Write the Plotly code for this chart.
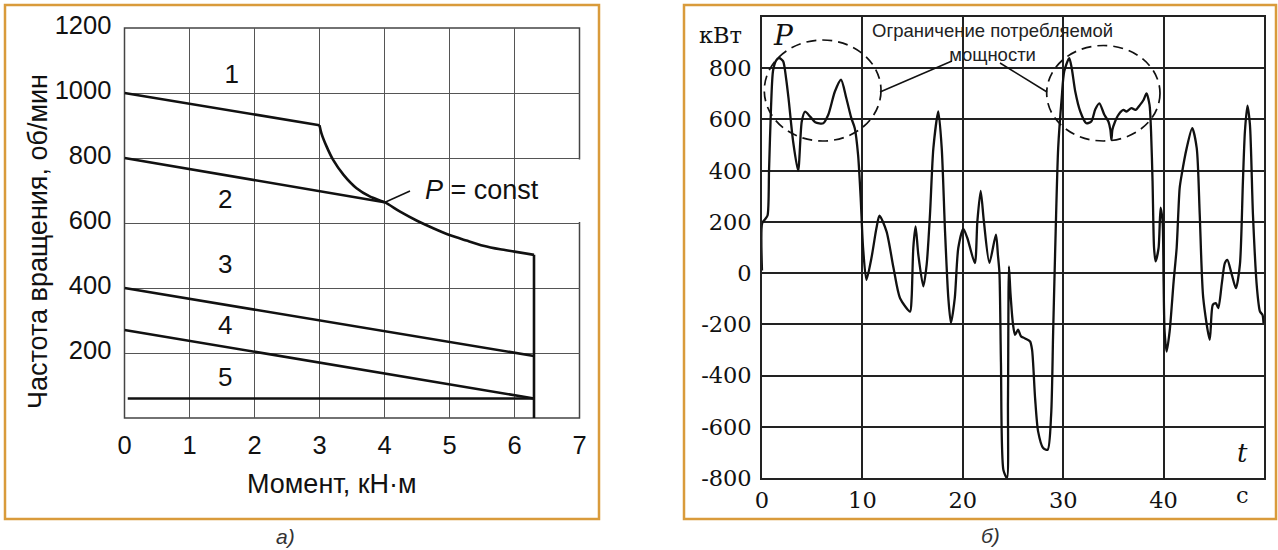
import plotly.graph_objects as go

W, H = 1278, 550

# ---------------- data: panel a) ----------------
line1_m = [0, 3.0]
line1_n = [1000, 901]
line2_m = [0, 4.0]
line2_n = [800, 664]
pconst_m = [3.0, 3.03, 3.11, 3.21, 3.37, 3.57, 3.78, 4.0, 4.24, 4.5, 4.75, 5.0, 5.26, 5.52, 5.78, 6.0, 6.3]
pconst_n = [901, 876, 835, 794, 748, 707, 681, 664, 635, 607, 584, 563, 546, 530, 519, 512, 502]
limit_m = [6.3, 6.3]
limit_n = [502, 0]
line3_m = [0, 6.3]
line3_n = [400, 191]
line4_m = [0, 6.3]
line4_n = [271, 60]
line5_m = [0.05, 6.3]
line5_n = [60, 60]
curve_labels = ["1", "2", "3", "4", "5"]
curve_label_m = [1.65, 1.55, 1.55, 1.55, 1.55]
curve_label_n = [1050, 665, 465, 277, 117]
a_xticks = [0, 1, 2, 3, 4, 5, 6, 7]
a_yticks = [200, 400, 600, 800, 1000, 1200]

# ---------------- data: panel б) ----------------
t_s = [0, 0.02, 0.3, 0.55, 0.7, 0.9, 1.1, 1.4, 1.7, 2.1, 2.4, 2.64, 3.1, 3.6, 3.96, 4.28, 4.8, 5.3,
       6.1, 6.6, 7.26, 7.87, 8.4, 8.9, 9.24, 9.57, 9.83, 10.07, 10.4, 10.9, 11.4, 11.7, 12.4, 13.1,
       13.75, 14.75, 14.9, 15.07, 15.3, 15.57, 16.07, 16.4, 16.73, 17.07, 17.56, 17.9, 18.23, 18.56,
       18.82, 19.2, 19.55, 20.05, 20.45, 21.2, 21.45, 21.78, 22.1, 22.65, 23.3, 23.5, 23.65, 23.8,
       24.05, 24.4, 24.5, 24.6, 24.75, 25.0, 25.2, 25.5, 25.8, 26.2, 26.7, 26.9, 27.2, 27.5, 28.0,
       28.45, 28.8, 29.0, 29.25, 29.5, 29.85, 30.1, 30.6, 30.85, 31.2, 31.7, 32.3, 32.8, 33.2, 33.6,
       34.1, 34.5, 34.7, 34.8, 34.9, 35.15, 35.5, 36.0, 36.3, 36.8, 37.2, 37.65, 38.0, 38.3, 38.6,
       38.75, 38.9, 39.05, 39.2, 39.5, 39.7, 39.9, 40.0, 40.1, 40.3, 40.6, 41.0, 41.3, 41.6, 41.8,
       42.3, 42.85, 43.3, 43.6, 43.95, 44.6, 44.9, 45.2, 45.45, 45.8, 46.1, 46.35, 46.8, 47.2, 47.6,
       47.9, 48.1, 48.35, 48.6, 48.9, 49.3, 49.6, 49.85, 49.95]
p_kw = [10, 195, 210, 225, 400, 650, 790, 830, 840, 828, 760, 683, 514, 400, 592, 630, 611, 589,
        585, 618, 709, 755, 683, 605, 566, 462, 293, 98, -26, 59, 176, 224, 163, 20,
        -98, -150, -98, 98, 182, 72, -52, 33, 228, 488, 631, 488, 163, -98,
        -195, -98, 98, 173, 137, 39, 202, 321, 202, 40, 150, 70, 0, -350,
        -770, -800, -500, 26, -80, -200, -241, -221, -247, -255, -267, -300, -488, -618, -683,
        -690, -553, -228, 163, 488, 683, 787, 839, 800, 709, 631, 585, 592, 640, 663,
        618, 592, 560, 520, 560, 590, 618, 637, 631, 644, 637, 657, 676, 702, 657,
        553, 358, 98, 46, 98, 256, 202, -32, -228, -306, -228, -32, 98, 332, 384,
        488, 566, 488, 228, -98, -260, -124, -117, -137, -40, 39, 52, -7, -59, 33,
        358, 553, 654, 579, 228, -59, -150, -163, -195]
b_xticks = [0, 10, 20, 30, 40]
b_yticks = [-800, -600, -400, -200, 0, 200, 400, 600, 800]
b_yticktext = ["-800", "-600", "-400", "-200", "0", "200", "400", "600", "800"]


def fx(p):
    return p / W


def fy(p):
    return 1 - p / H


fig = go.Figure()

BLK = "#111111"
sans = "Liberation Sans, Arial, sans-serif"
serif = "DejaVu Serif, serif"

for mm, nn in [(line1_m, line1_n), (line2_m, line2_n), (limit_m, limit_n),
               (line3_m, line3_n), (line4_m, line4_n), (line5_m, line5_n)]:
    fig.add_trace(go.Scatter(x=mm, y=nn, mode="lines", xaxis="x", yaxis="y",
                             line=dict(color=BLK, width=2.6), showlegend=False, hoverinfo="skip"))
fig.add_trace(go.Scatter(x=pconst_m, y=pconst_n, mode="lines", xaxis="x", yaxis="y",
                         line=dict(color=BLK, width=2.6, shape="spline", smoothing=0.8),
                         showlegend=False, hoverinfo="skip"))
fig.add_trace(go.Scatter(x=curve_label_m, y=curve_label_n, mode="text", text=curve_labels,
                         textfont=dict(family=sans, size=26, color=BLK),
                         xaxis="x", yaxis="y", showlegend=False, hoverinfo="skip", cliponaxis=False))

fig.add_trace(go.Scatter(x=t_s, y=p_kw, mode="lines", xaxis="x2", yaxis="y2",
                         line=dict(color=BLK, width=2.3, shape="spline", smoothing=0.7),
                         showlegend=False, hoverinfo="skip"))

fig.update_layout(
    width=W, height=H, autosize=False, showlegend=False,
    margin=dict(l=0, r=0, t=0, b=0, pad=0, autoexpand=False),
    paper_bgcolor="white", plot_bgcolor="white",
    xaxis=dict(domain=[fx(124.5), fx(579.5)], range=[0, 7], tickmode="array", tickvals=a_xticks,
               showgrid=True, gridcolor="#555555", gridwidth=1, zeroline=False, showline=False,
               ticks="outside", ticklen=0, ticklabelstandoff=4, automargin=False, anchor="y",
               tickfont=dict(family=sans, size=25.5, color=BLK), fixedrange=True),
    yaxis=dict(domain=[fy(418), fy(28)], range=[0, 1200], tickmode="array", tickvals=a_yticks,
               showgrid=True, gridcolor="#555555", gridwidth=1, zeroline=False, showline=False,
               ticks="outside", ticklen=0, ticklabelstandoff=7, ticklabelshift=-3,
               automargin=False, anchor="x",
               tickfont=dict(family=sans, size=25.5, color=BLK), fixedrange=True),
    xaxis2=dict(domain=[fx(762), fx(1264)], range=[0, 50], tickmode="array", tickvals=b_xticks,
                showgrid=True, gridcolor="#222222", gridwidth=1.5, zeroline=False,
                showline=True, mirror=True, linecolor="#222222", linewidth=1.6,
                ticks="outside", ticklen=0, ticklabelstandoff=1, anchor="y2", automargin=False,
                tickfont=dict(family=serif, size=22.5, color=BLK), fixedrange=True),
    yaxis2=dict(domain=[fy(478), fy(17)], range=[-800, 1000], tickmode="array", tickvals=b_yticks,
                ticktext=b_yticktext,
                showgrid=True, gridcolor="#222222", gridwidth=1.5, zeroline=False,
                showline=True, mirror=True, linecolor="#222222", linewidth=1.6,
                ticks="outside", ticklen=0, ticklabelstandoff=4, anchor="x2", automargin=False,
                tickfont=dict(family=serif, size=22.5, color=BLK), fixedrange=True),
)

ORANGE = "#D99B3B"
shapes = [
    dict(type="rect", xref="paper", yref="paper", x0=fx(5), x1=fx(599), y0=fy(519), y1=fy(5),
         line=dict(color=ORANGE, width=2.5), layer="below"),
    dict(type="rect", xref="paper", yref="paper", x0=fx(684), x1=fx(1276), y0=fy(519), y1=fy(5),
         line=dict(color=ORANGE, width=2.5), layer="below"),
    # frame of panel a)
    dict(type="rect", xref="paper", yref="paper", x0=fx(124.5), x1=fx(579.5), y0=fy(418), y1=fy(28),
         line=dict(color="#444444", width=1.5), layer="below"),
    # white box behind "P = const"
    dict(type="rect", xref="paper", yref="paper", x0=fx(387), x1=fx(586), y0=fy(222), y1=fy(159.5),
         line=dict(width=0), fillcolor="white", layer="between"),
    # white box behind note in panel б)
    dict(type="rect", xref="paper", yref="paper", x0=fx(866), x1=fx(1150), y0=fy(67.5), y1=fy(18),
         line=dict(width=0), fillcolor="white", layer="between"),
    # leader for P = const
    dict(type="line", xref="paper", yref="paper", x0=fx(384.5), y0=fy(202.5), x1=fx(410), y1=fy(191),
         line=dict(color=BLK, width=1.5), layer="above"),
    # dashed ellipses
    dict(type="circle", xref="paper", yref="paper", x0=fx(764.3), x1=fx(881), y0=fy(141), y1=fy(40),
         line=dict(color=BLK, width=1.7, dash="10px,6px"), layer="above"),
    dict(type="circle", xref="paper", yref="paper", x0=fx(1046.7), x1=fx(1160), y0=fy(141), y1=fy(45.5),
         line=dict(color=BLK, width=1.7, dash="10px,6px"), layer="above"),
    # leader lines
    dict(type="line", xref="paper", yref="paper", x0=fx(880), y0=fy(92), x1=fx(952), y1=fy(61),
         line=dict(color=BLK, width=1.5), layer="above"),
    dict(type="line", xref="paper", yref="paper", x0=fx(1000), y0=fy(63), x1=fx(1047), y1=fy(92),
         line=dict(color=BLK, width=1.5), layer="above"),
]
fig.update_layout(shapes=shapes)

ann = [
    dict(text="Частота вращения, об/мин", x=fx(38), y=fy(242), textangle=-90,
         font=dict(family=sans, size=27, color=BLK)),
    dict(text="Момент, кН·м", x=fx(332), y=fy(484), font=dict(family=sans, size=27, color=BLK)),
    dict(text="<i>P</i> = const", x=fx(482), y=fy(190), font=dict(family=sans, size=27, color=BLK)),
    dict(text="<i>а)</i>", x=fx(285), y=fy(536), font=dict(family=sans, size=21, color="#333333")),
    dict(text="<i>б)</i>", x=fx(990), y=fy(535), font=dict(family=sans, size=21, color="#333333")),
    dict(text="кВт", x=fx(720), y=fy(35), font=dict(family=serif, size=22.5, color=BLK)),
    dict(text="<i>P</i>", x=fx(783), y=fy(36), font=dict(family=serif, size=28, color=BLK)),
    dict(text="<i>t</i>", x=fx(1242), y=fy(453), font=dict(family=serif, size=26, color=BLK)),
    dict(text="с", x=fx(1242), y=fy(495), font=dict(family=serif, size=22.5, color=BLK)),
    dict(text="Ограничение потребляемой<br>мощности", x=fx(992), y=fy(43),
         font=dict(family=sans, size=18.5, color="#222222")),
]
for a in ann:
    a.update(xref="paper", yref="paper", xanchor="center", yanchor="middle", showarrow=False)
fig.update_layout(annotations=ann)

fig.write_html("out.html", config={"responsive": False, "displayModeBar": False},
               post_script="document.body.style.margin='0';document.body.style.overflow='hidden';")
